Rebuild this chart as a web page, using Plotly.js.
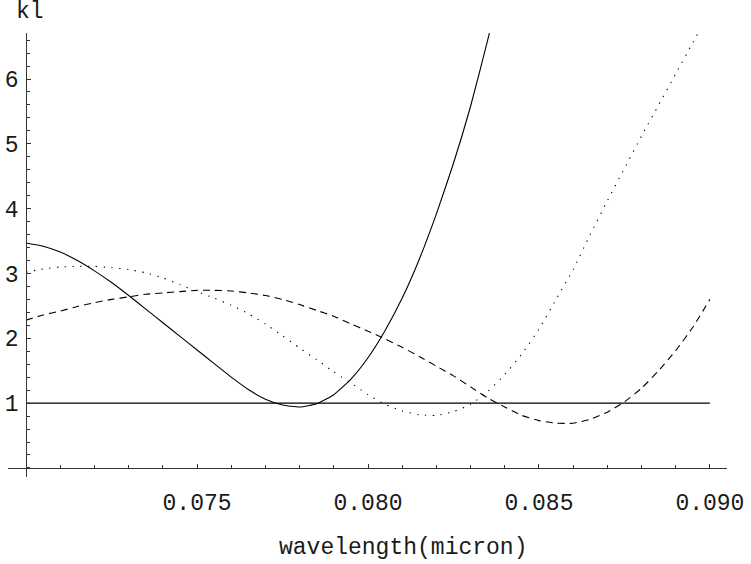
<!DOCTYPE html>
<html>
<head>
<meta charset="utf-8">
<script src="https://cdn.plot.ly/plotly-3.0.1.min.js"></script>
<style>
  html, body { margin: 0; padding: 0; background: #ffffff; }
  #chart { width: 751px; height: 564px; }
</style>
</head>
<body>
<div id="chart"></div>
<script>
// Wavelength samples (micron)
const wavelength = [
  0.0700, 0.0705, 0.0710, 0.0715, 0.0720, 0.0725, 0.0730, 0.0735, 0.0740, 0.0745,
  0.0750, 0.0755, 0.0760, 0.0765, 0.0770, 0.0775, 0.0780, 0.0785, 0.0790, 0.0795,
  0.0800, 0.0805, 0.0810, 0.0815, 0.0820, 0.0825, 0.0830, 0.0835, 0.0840, 0.0845,
  0.0850, 0.0855, 0.0860, 0.0865, 0.0870, 0.0875, 0.0880, 0.0885, 0.0890, 0.0895,
  0.0900
];

// kl for the three cases (solid, dotted, dashed)
const klSolid = [
  3.47, 3.42, 3.33, 3.20, 3.04, 2.86, 2.66, 2.45, 2.24, 2.03,
  1.82, 1.61, 1.40, 1.21, 1.06, 0.97, 0.94, 0.99, 1.13, 1.37,
  1.70, 2.12, 2.62, 3.22, 3.92, 4.70, 5.58, 6.60, 7.70
];
const klDotted = [
  3.02, 3.07, 3.10, 3.11, 3.11, 3.09, 3.06, 3.01, 2.93, 2.83,
  2.72, 2.62, 2.51, 2.38, 2.22, 2.04, 1.85, 1.67, 1.48, 1.31,
  1.13, 0.98, 0.88, 0.82, 0.81, 0.87, 0.98, 1.18, 1.44, 1.76,
  2.14, 2.60, 3.06, 3.60, 4.12, 4.62, 5.12, 5.60, 6.08, 6.56,
  7.04
];
const klDashed = [
  2.28, 2.36, 2.42, 2.49, 2.55, 2.60, 2.64, 2.68, 2.70, 2.72,
  2.74, 2.74, 2.73, 2.70, 2.66, 2.60, 2.52, 2.43, 2.34, 2.22,
  2.11, 1.99, 1.86, 1.72, 1.57, 1.42, 1.25, 1.08, 0.94, 0.81,
  0.73, 0.69, 0.69, 0.75, 0.86, 1.02, 1.23, 1.50, 1.81, 2.17,
  2.60
];

// Reference level kl = 1
const levelX = [0.070, 0.090];
const levelY = [1, 1];

// Axis ticks
const xTickVals = [0.075, 0.080, 0.085, 0.090];
const xTickText = ['0.075', '0.080', '0.085', '0.090'];
const yTickVals = [1, 2, 3, 4, 5, 6];
const yTickText = ['1', '2', '3', '4', '5', '6'];

// Frame geometry
const W = 751, H = 564;
const M = { l: 8, r: 24, t: 33, b: 87 };
const X_RANGE = [0.06947, 0.0905];
const Y_RANGE = [-0.14, 6.71];
const AXIS_X0 = 0.070;   // where the vertical axis crosses
const AXIS_Y0 = 0;       // where the horizontal axis crosses

const plotW = W - M.l - M.r, plotH = H - M.t - M.b;
const paperX = px => (px - M.l) / plotW;
const paperY = py => 1 - (py - M.t) / plotH;

const FONT = 'Liberation Mono, Courier New, monospace';
const FONT_SIZE = 23;
const INK = '#1a1a1a';
const AXIS_INK = '#333333';

const line = (dash) => ({ color: '#000000', width: 1.1, dash: dash, shape: 'spline', smoothing: 0.5 });

const traces = [
  { x: levelX, y: levelY, mode: 'lines', line: { color: '#000000', width: 1.3 }, hoverinfo: 'skip' },
  { x: wavelength, y: klDashed, mode: 'lines', line: line('7px,5px') },
  { x: wavelength, y: klDotted, mode: 'lines', line: line('1.3px,6.5px') },
  { x: wavelength, y: klSolid, mode: 'lines', line: line('solid') }
];

const layout = {
  width: W, height: H,
  margin: M,
  paper_bgcolor: '#ffffff', plot_bgcolor: '#ffffff',
  showlegend: false,
  font: { family: FONT, size: FONT_SIZE, color: INK },
  xaxis: {
    range: X_RANGE,
    anchor: 'free',
    position: (AXIS_Y0 - Y_RANGE[0]) / (Y_RANGE[1] - Y_RANGE[0]),
    showline: true, linecolor: AXIS_INK, linewidth: 1,
    showgrid: false, zeroline: false,
    ticks: 'inside', ticklen: 4, tickwidth: 1, tickcolor: AXIS_INK,
    tickmode: 'array', tickvals: xTickVals, ticktext: xTickText,
    ticklabelstandoff: 13,
    tickfont: { family: FONT, size: FONT_SIZE, color: INK },
    minor: { tickmode: 'linear', tick0: 0.070, dtick: 0.001, ticks: 'inside', ticklen: 2.5, tickwidth: 1, tickcolor: AXIS_INK, showgrid: false }
  },
  yaxis: {
    range: Y_RANGE,
    anchor: 'free',
    position: (AXIS_X0 - X_RANGE[0]) / (X_RANGE[1] - X_RANGE[0]),
    showline: true, linecolor: AXIS_INK, linewidth: 1,
    showgrid: false, zeroline: false,
    ticks: 'inside', ticklen: 4, tickwidth: 1, tickcolor: AXIS_INK,
    tickmode: 'array', tickvals: yTickVals, ticktext: yTickText,
    ticklabelstandoff: 3,
    tickfont: { family: FONT, size: FONT_SIZE, color: INK },
    minor: { tickmode: 'linear', tick0: 0, dtick: 0.2, ticks: 'inside', ticklen: 2.5, tickwidth: 1, tickcolor: AXIS_INK, showgrid: false }
  },
  annotations: [
    { text: 'kl', xref: 'paper', yref: 'paper', x: paperX(14), y: paperY(12),
      xanchor: 'left', yanchor: 'middle', showarrow: false,
      font: { family: FONT, size: FONT_SIZE, color: INK } },
    { text: 'wavelength(micron)', xref: 'paper', yref: 'paper', x: paperX(403), y: paperY(548),
      xanchor: 'center', yanchor: 'middle', showarrow: false,
      font: { family: FONT, size: FONT_SIZE, color: INK } }
  ]
};

Plotly.newPlot('chart', traces, layout, { displayModeBar: false, staticPlot: true });
</script>
</body>
</html>
